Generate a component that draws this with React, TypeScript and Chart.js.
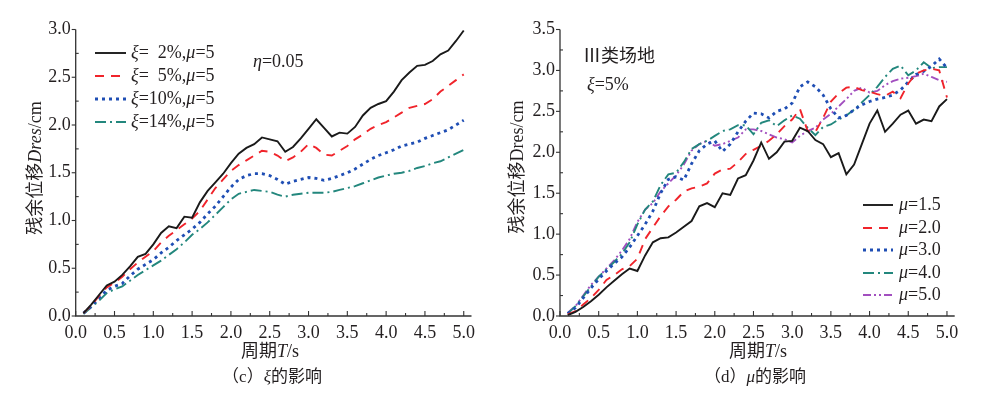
import React, { useEffect, useRef } from "react";
import { Chart, registerables } from "chart.js";
Chart.register(...registerables);

// ---------- data ----------
const periods = [
  0.1, 0.2, 0.3, 0.4, 0.5, 0.6, 0.7, 0.8, 0.9, 1.0,
  1.1, 1.2, 1.3, 1.4, 1.5, 1.6, 1.7, 1.8, 1.9, 2.0,
  2.1, 2.2, 2.3, 2.4, 2.5, 2.6, 2.7, 2.8, 2.9, 3.0,
  3.1, 3.2, 3.3, 3.4, 3.5, 3.6, 3.7, 3.8, 3.9, 4.0,
  4.1, 4.2, 4.3, 4.4, 4.5, 4.6, 4.7, 4.8, 4.9, 5.0,
];

// (c) damping ratio influence, mu = 5
const xi2 = [
  0.03, 0.12, 0.22, 0.32, 0.36, 0.43, 0.52, 0.62, 0.65, 0.75,
  0.87, 0.94, 0.92, 1.04, 1.03, 1.19, 1.31, 1.40, 1.49, 1.60,
  1.70, 1.76, 1.80, 1.87, 1.85, 1.83, 1.72, 1.77, 1.86, 1.96,
  2.06, 1.97, 1.88, 1.92, 1.91, 1.98, 2.10, 2.18, 2.22, 2.25,
  2.35, 2.47, 2.55, 2.62, 2.63, 2.67, 2.74, 2.78, 2.88, 2.99,
];
const xi5 = [
  0.03, 0.11, 0.21, 0.30, 0.35, 0.41, 0.49, 0.56, 0.62, 0.68,
  0.77, 0.84, 0.90, 0.96, 1.02, 1.10, 1.22, 1.34, 1.43, 1.52,
  1.58, 1.63, 1.68, 1.73, 1.72, 1.68, 1.62, 1.66, 1.72, 1.80,
  1.76, 1.69, 1.68, 1.73, 1.78, 1.85, 1.90, 1.96, 2.00, 2.03,
  2.08, 2.13, 2.18, 2.20, 2.22, 2.27, 2.35, 2.41, 2.47, 2.53,
];
const xi10 = [
  0.03, 0.10, 0.19, 0.27, 0.31, 0.34, 0.42, 0.49, 0.54, 0.59,
  0.66, 0.72, 0.79, 0.85, 0.91, 0.98, 1.07, 1.15, 1.25, 1.35,
  1.43, 1.47, 1.49, 1.49, 1.47, 1.43, 1.38, 1.41, 1.43, 1.45,
  1.44, 1.42, 1.44, 1.47, 1.50, 1.54, 1.59, 1.64, 1.68, 1.71,
  1.74, 1.78, 1.80, 1.82, 1.86, 1.89, 1.92, 1.95, 2.00, 2.05,
];
const xi14 = [
  0.02, 0.09, 0.16, 0.24, 0.28, 0.31, 0.37, 0.43, 0.48, 0.53,
  0.58, 0.64, 0.70, 0.77, 0.85, 0.91, 0.98, 1.06, 1.14, 1.22,
  1.28, 1.30, 1.32, 1.31, 1.30, 1.27, 1.25, 1.27, 1.28, 1.29,
  1.29, 1.29, 1.30, 1.32, 1.34, 1.36, 1.39, 1.42, 1.45, 1.47,
  1.49, 1.50, 1.52, 1.55, 1.57, 1.60, 1.62, 1.66, 1.70, 1.74,
];

// (d) ductility influence, xi = 5%
const mu15 = [
  0.01, 0.05, 0.11, 0.18, 0.26, 0.35, 0.43, 0.51, 0.58, 0.55,
  0.74, 0.90, 0.95, 0.96, 1.02, 1.09, 1.16, 1.34, 1.38, 1.33,
  1.50, 1.48, 1.68, 1.72, 1.90, 2.12, 1.92, 2.00, 2.13, 2.14,
  2.30, 2.26, 2.15, 2.10, 1.94, 1.99, 1.73, 1.85, 2.10, 2.35,
  2.51, 2.25, 2.35, 2.46, 2.51, 2.35, 2.40, 2.38, 2.56, 2.65,
];
const mu20 = [
  0.02, 0.06, 0.14, 0.22, 0.32, 0.44, 0.50, 0.57, 0.61, 0.70,
  0.94, 1.08, 1.22, 1.34, 1.42, 1.52, 1.56, 1.58, 1.62, 1.74,
  1.79, 1.80, 1.88, 1.98, 2.03, 2.08, 2.14, 2.22, 2.32, 2.40,
  2.53, 2.26, 2.25, 2.42, 2.62, 2.72, 2.79, 2.80, 2.76, 2.74,
  2.71, 2.69, 2.74, 2.66, 2.84, 2.96, 3.00, 3.02, 3.00, 2.67,
];
const mu30 = [
  0.03, 0.10, 0.22, 0.34, 0.45, 0.55, 0.64, 0.72, 0.84, 0.98,
  1.12, 1.28, 1.50, 1.67, 1.70, 1.66, 1.86, 2.02, 2.10, 2.14,
  2.01, 2.10, 2.25, 2.38, 2.48, 2.47, 2.42, 2.50, 2.53, 2.60,
  2.80, 2.86, 2.80, 2.70, 2.53, 2.42, 2.45, 2.52, 2.58, 2.62,
  2.65, 2.67, 2.70, 2.76, 2.86, 2.95, 2.99, 3.05, 3.14, 3.03,
];
const mu40 = [
  0.03, 0.12, 0.24, 0.36, 0.48, 0.57, 0.66, 0.76, 0.90, 1.12,
  1.30, 1.40, 1.60, 1.73, 1.75, 1.88, 2.04, 2.10, 2.14, 2.20,
  2.26, 2.28, 2.33, 2.33, 2.22, 2.36, 2.39, 2.32, 2.39, 2.45,
  2.41, 2.30, 2.21, 2.31, 2.34, 2.40, 2.45, 2.52, 2.61, 2.70,
  2.80, 2.92, 3.02, 3.06, 2.94, 3.00, 3.10, 3.03, 3.04, 3.04,
];
const mu50 = [
  0.04, 0.12, 0.25, 0.38, 0.48, 0.58, 0.68, 0.80, 0.94, 1.15,
  1.30, 1.38, 1.52, 1.62, 1.72, 1.85, 2.02, 2.10, 2.14, 2.08,
  2.10, 2.14, 2.18, 2.28, 2.28, 2.26, 2.22, 2.18, 2.16, 2.12,
  2.20, 2.26, 2.30, 2.40, 2.47, 2.56, 2.65, 2.75, 2.79, 2.73,
  2.75, 2.82, 2.87, 2.90, 2.91, 2.93, 2.96, 2.92, 2.88, 2.86,
];

const xTickValues = [0, 0.5, 1.0, 1.5, 2.0, 2.5, 3.0, 3.5, 4.0, 4.5, 5.0];
const yTickValuesC = [0, 0.5, 1.0, 1.5, 2.0, 2.5, 3.0];
const yTickValuesD = [0, 0.5, 1.0, 1.5, 2.0, 2.5, 3.0, 3.5];

// ---------- styling ----------
const SERIF = '"Liberation Serif", "Times New Roman", "Noto Sans CJK SC", serif';
const TEXT = "#231f20";
const AXIS = "#333333";

type Seg = { t: string; i?: boolean };

function drawRich(ctx: CanvasRenderingContext2D, segs: Seg[], x: number, y: number, size: number, align: "left" | "center" = "left") {
  const fontFor = (s: Seg) => `${s.i ? "italic " : ""}${size}px ${SERIF}`;
  let total = 0;
  segs.forEach((s) => {
    ctx.font = fontFor(s);
    total += ctx.measureText(s.t).width;
  });
  let cx = align === "center" ? x - total / 2 : x;
  ctx.textBaseline = "middle";
  ctx.textAlign = "left";
  ctx.fillStyle = TEXT;
  segs.forEach((s) => {
    ctx.font = fontFor(s);
    ctx.fillText(s.t, cx, y);
    cx += ctx.measureText(s.t).width;
  });
}

type Decor = {
  legend: { x0: number; x1: number; tx: number; rows: number[]; labels: Seg[][] };
  notes: { segs: Seg[]; x: number; y: number; size: number }[];
  yTitle: { segs: Seg[]; x: number; y: number };
  xTitle: { segs: Seg[]; x: number; y: number };
  caption: { segs: Seg[]; x: number; y: number };
  yMax: number;
};

const decorPlugin = {
  id: "decor",
  afterDraw(chart: any, _args: any, opts: Decor) {
    const ctx: CanvasRenderingContext2D = chart.ctx;
    const xs = chart.scales.x;
    const ys = chart.scales.y;
    const { left, bottom } = chart.chartArea;
    const right = xs.right;
    const top = ys.getPixelForValue(opts.yMax);
    ctx.save();
    // axis lines
    ctx.strokeStyle = AXIS;
    ctx.lineWidth = 1.3;
    ctx.beginPath();
    ctx.moveTo(left, top);
    ctx.lineTo(left, bottom);
    ctx.lineTo(right, bottom);
    ctx.stroke();
    // x ticks (inward)
    ctx.lineWidth = 1.1;
    for (let k = 0; k <= 20; k++) {
      const v = k * 0.25;
      const px = xs.getPixelForValue(v);
      const len = k % 2 === 0 ? 5 : 3;
      ctx.beginPath();
      ctx.moveTo(px, bottom);
      ctx.lineTo(px, bottom - len);
      ctx.stroke();
    }
    // y ticks: major outward, minor inward
    const nY = Math.round(opts.yMax / 0.25);
    for (let k = 0; k <= nY; k++) {
      const py = ys.getPixelForValue(k * 0.25);
      ctx.beginPath();
      if (k % 2 === 0) {
        ctx.moveTo(left - 4, py);
        ctx.lineTo(left, py);
      } else {
        ctx.moveTo(left, py);
        ctx.lineTo(left + 3, py);
      }
      ctx.stroke();
    }
    // legend
    const lg = opts.legend;
    chart.data.datasets.forEach((ds: any, i: number) => {
      const y = lg.rows[i];
      ctx.save();
      ctx.strokeStyle = ds.borderColor;
      ctx.lineWidth = ds.borderWidth;
      ctx.setLineDash(ds.borderDash || []);
      ctx.lineCap = "butt";
      ctx.beginPath();
      ctx.moveTo(lg.x0, y);
      ctx.lineTo(lg.x1, y);
      ctx.stroke();
      ctx.restore();
      drawRich(ctx, lg.labels[i], lg.tx, y, 18);
    });
    // notes
    opts.notes.forEach((n) => drawRich(ctx, n.segs, n.x, n.y, n.size));
    // titles
    ctx.save();
    ctx.translate(opts.yTitle.x, opts.yTitle.y);
    ctx.rotate(-Math.PI / 2);
    drawRich(ctx, opts.yTitle.segs, 0, 0, 18, "center");
    ctx.restore();
    drawRich(ctx, opts.xTitle.segs, opts.xTitle.x, opts.xTitle.y, 18, "center");
    drawRich(ctx, opts.caption.segs, opts.caption.x, opts.caption.y, 17, "center");
    ctx.restore();
  },
};

type SeriesDef = { values: number[]; color: string; dash: number[]; width: number };

function makeConfig(series: SeriesDef[], yMax: number, yTicks: number[], yWidth: number, padRight: number, decor: Decor) {
  return {
    type: "line",
    data: {
      datasets: series.map((s) => ({
        data: periods.map((t, i) => ({ x: t, y: s.values[i] })),
        borderColor: s.color,
        borderWidth: s.width,
        borderDash: s.dash,
        pointRadius: 0,
        tension: 0,
        fill: false,
      })),
    },
    options: {
      responsive: false,
      maintainAspectRatio: false,
      animation: false,
      devicePixelRatio: 1,
      layout: { padding: { left: 0, right: padRight, top: 29.5, bottom: 0 } },
      plugins: {
        legend: { display: false },
        tooltip: { enabled: false },
        decor,
      },
      scales: {
        x: {
          type: "linear",
          min: 0,
          max: 5.1,
          grid: { display: false, drawTicks: false },
          border: { display: false },
          afterBuildTicks: (sc: any) => {
            sc.ticks = xTickValues.map((v) => ({ value: v }));
          },
          afterFit: (sc: any) => {
            sc.height = 81;
          },
          ticks: {
            padding: 6,
            maxRotation: 0,
            autoSkip: false,
            color: TEXT,
            font: { family: SERIF, size: 18 },
            callback: (v: any) => Number(v).toFixed(1),
          },
        },
        y: {
          type: "linear",
          min: 0,
          max: yMax,
          grid: { display: false, drawTicks: false },
          border: { display: false },
          afterBuildTicks: (sc: any) => {
            sc.ticks = yTicks.map((v) => ({ value: v }));
          },
          afterFit: (sc: any) => {
            sc.width = yWidth;
          },
          ticks: {
            padding: 5,
            autoSkip: false,
            color: TEXT,
            font: { family: SERIF, size: 18 },
            callback: (v: any) => Number(v).toFixed(1),
          },
        },
      },
    },
    plugins: [decorPlugin],
  } as any;
}

const seriesC: SeriesDef[] = [
  { values: xi2, color: "#1a1a1a", dash: [], width: 1.9 },
  { values: xi5, color: "#f0242b", dash: [9, 7], width: 1.9 },
  { values: xi10, color: "#1f4eb4", dash: [3, 4], width: 2.8 },
  { values: xi14, color: "#23877d", dash: [11, 4, 2, 4], width: 1.9 },
];
const seriesD: SeriesDef[] = [
  { values: mu15, color: "#1a1a1a", dash: [], width: 1.9 },
  { values: mu20, color: "#f0242b", dash: [9, 7], width: 1.9 },
  { values: mu30, color: "#1f4eb4", dash: [3, 4], width: 2.8 },
  { values: mu40, color: "#23877d", dash: [11, 4, 2, 4], width: 1.9 },
  { values: mu50, color: "#a24fbf", dash: [8, 3, 2, 3, 2, 3], width: 1.9 },
];

const decorC: Decor = {
  legend: {
    x0: 95,
    x1: 126,
    tx: 131,
    rows: [53, 76, 99, 122],
    labels: [
      [{ t: "ξ", i: true }, { t: "=  2%," }, { t: "μ", i: true }, { t: "=5" }],
      [{ t: "ξ", i: true }, { t: "=  5%," }, { t: "μ", i: true }, { t: "=5" }],
      [{ t: "ξ", i: true }, { t: "=10%," }, { t: "μ", i: true }, { t: "=5" }],
      [{ t: "ξ", i: true }, { t: "=14%," }, { t: "μ", i: true }, { t: "=5" }],
    ],
  },
  notes: [{ segs: [{ t: "η", i: true }, { t: "=0.05" }], x: 253, y: 62, size: 18 }],
  yTitle: { segs: [{ t: "残余位移" }, { t: "Dres", i: true }, { t: "/cm" }], x: 36, y: 168 },
  xTitle: { segs: [{ t: "周期" }, { t: "T", i: true }, { t: "/s" }], x: 270, y: 352 },
  caption: { segs: [{ t: "（c）" }, { t: "ξ", i: true }, { t: "的影响" }], x: 272, y: 378 },
  yMax: 3.0,
};

const decorD: Decor = {
  legend: {
    x0: 369,
    x1: 399,
    tx: 405,
    rows: [205, 228, 250, 273, 295],
    labels: [
      [{ t: "μ", i: true }, { t: "=1.5" }],
      [{ t: "μ", i: true }, { t: "=2.0" }],
      [{ t: "μ", i: true }, { t: "=3.0" }],
      [{ t: "μ", i: true }, { t: "=4.0" }],
      [{ t: "μ", i: true }, { t: "=5.0" }],
    ],
  },
  notes: [
    { segs: [{ t: "Ⅲ类场地" }], x: 89, y: 57, size: 18 },
    { segs: [{ t: "ξ", i: true }, { t: "=5%" }], x: 93, y: 85, size: 18 },
  ],
  yTitle: { segs: [{ t: "残余位移Dres/cm" }], x: 24, y: 167 },
  xTitle: { segs: [{ t: "周期" }, { t: "T", i: true }, { t: "/s" }], x: 264, y: 352 },
  caption: { segs: [{ t: "（d）" }, { t: "μ", i: true }, { t: "的影响" }], x: 261, y: 378 },
  yMax: 3.5,
};

function ChartCanvas({ config, left }: { config: any; left: number }) {
  const ref = useRef<HTMLCanvasElement | null>(null);
  useEffect(() => {
    if (!ref.current) return;
    const chart = new Chart(ref.current, config);
    return () => chart.destroy();
  }, [config]);
  return (
    <canvas
      ref={ref}
      width={494}
      height={397}
      style={{ position: "absolute", left, top: 0, width: 494, height: 397 }}
    />
  );
}

const configC = makeConfig(seriesC, 3.0, yTickValuesC, 75.7, 494 - 471.5, decorC);
const configD = makeConfig(seriesD, 3.5, yTickValuesD, 66, 494 - 460.7, decorD);

export default function App() {
  return (
    <div style={{ position: "fixed", left: 0, top: 0, width: 988, height: 397, background: "#ffffff", overflow: "hidden" }}>
      <ChartCanvas config={configC} left={0} />
      <ChartCanvas config={configD} left={494} />
    </div>
  );
}
